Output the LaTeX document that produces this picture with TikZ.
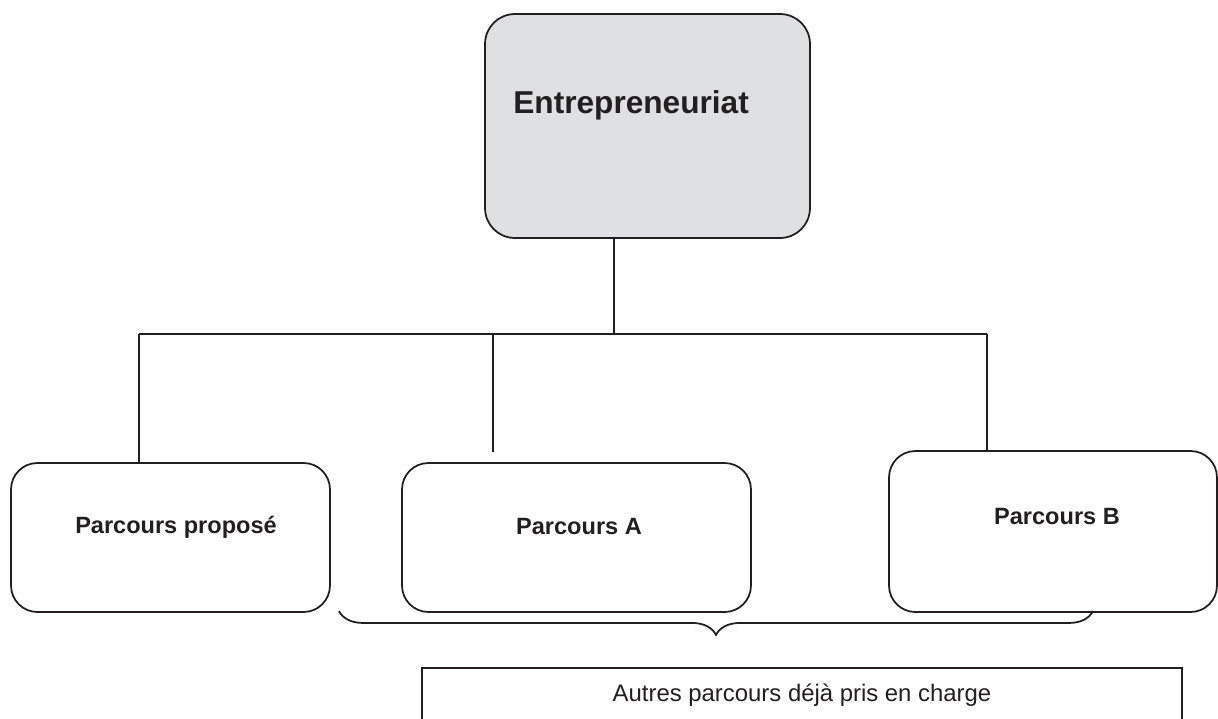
\documentclass[tikz,border=0pt]{standalone}
\usepackage{fontspec}
\setmainfont{Liberation Sans}
\usetikzlibrary{positioning,calc,decorations.pathreplacing}

\definecolor{trait}{RGB}{35,31,32}
\definecolor{fondgris}{RGB}{223,224,226}

\begin{document}
\begin{tikzpicture}[x=0.02cm, y=-0.02cm,
    cadre/.style = {draw=trait, line width=1pt, rounded corners=15pt, inner sep=0pt},
    titre/.style = {font=\fontsize{18}{21}\selectfont\bfseries, text=trait, inner sep=0pt},
    branche/.style = {font=\fontsize{13.4}{16}\selectfont\bfseries, text=trait, inner sep=0pt},
    note/.style = {font=\fontsize{13.6}{16}\selectfont, text=trait, inner sep=0pt},
    lien/.style = {draw=trait, line width=1pt}]
                    \useasboundingbox (0,0) rectangle (1218,718);
                    \clip (0,0) rectangle (1218,718);

                    \node [cadre, fill=fondgris, rounded corners=17pt, minimum width=6.5cm, minimum height=4.48cm] (entre) at (647.5,126) {};
                    \node [titre, anchor=base west] (entre-txt) at (513,113) {Entrepreneuriat};

                    \node [cadre, minimum width=6.38cm, minimum height=2.98cm] (propose) at (170.5,537.5) {};
                    \node [branche, anchor=base] (propose-txt) at (176,533) {Parcours propos\'e};
                    \node [cadre, minimum width=6.98cm, minimum height=2.98cm] (parcA) at (576.5,537.5) {};
                    \node [branche, anchor=base] (parcA-txt) at (579,534) {Parcours A};
                    \node [cadre, minimum width=6.56cm, minimum height=3.22cm] (parcB) at (1053,531.5) {};
                    \node [branche, anchor=base] (parcB-txt) at (1057,524) {Parcours B};

                    \node [cadre, rounded corners=0pt, minimum width=15.2cm, minimum height=1.54cm] (autres) at (802,706.5) {};
                    \node [note, anchor=base] (autres-txt) at (802,701) {Autres parcours d\'ej\`a pris en charge};

                    % barre de liaison
                    \coordinate (gauche) at (139,334);
                    \coordinate (milieu) at (493,334);
                    \coordinate (droite) at (987,334);
                    \coordinate (brace-g) at (339,611);
                    \coordinate (brace-d) at (1093,611);

                    \path[lien]
                    (entre.south -| 614,0) -- (614,334)
                    (gauche) -- (droite)
                    (gauche) -- (gauche |- propose.north)
                    (milieu) -- (493,452)
                    (droite) -- (droite |- parcB.north);

                    \draw [lien, decorate, decoration={brace, mirror, amplitude=13.6pt}] (brace-g) -- (brace-d);
                \end{tikzpicture}
\end{document}
